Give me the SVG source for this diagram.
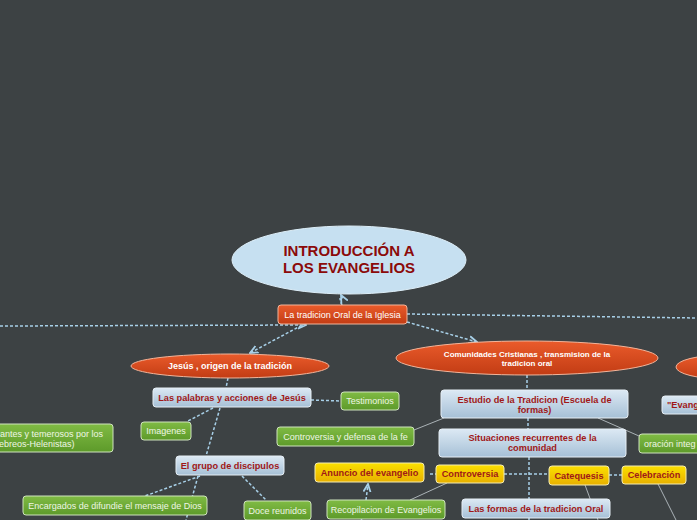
<svg xmlns="http://www.w3.org/2000/svg" width="697" height="520" viewBox="0 0 697 520">
<defs>
<linearGradient id="gOr" x1="0" y1="0" x2="0" y2="1"><stop offset="0" stop-color="#ea5b2b"/><stop offset="1" stop-color="#c23c14"/></linearGradient>
<linearGradient id="gBl" x1="0" y1="0" x2="0" y2="1"><stop offset="0" stop-color="#dce9f4"/><stop offset="1" stop-color="#a6c0d6"/></linearGradient>
<linearGradient id="gGr" x1="0" y1="0" x2="0" y2="1"><stop offset="0" stop-color="#80bb44"/><stop offset="1" stop-color="#5d9a2a"/></linearGradient>
<linearGradient id="gYe" x1="0" y1="0" x2="0" y2="1"><stop offset="0" stop-color="#fbe000"/><stop offset="1" stop-color="#e8b000"/></linearGradient>
<marker id="arr" viewBox="0 0 10 10" refX="9" refY="5" markerWidth="6" markerHeight="6" orient="auto-start-reverse"><path d="M0,1 L9,5 L0,9" fill="none" stroke="#a8d0e8" stroke-width="2"/></marker>
</defs>
<style>
.dash{fill:none;stroke:#a8d0e8;stroke-width:1.5;stroke-dasharray:3 2}
.sol{fill:none;stroke:#aab2b6;stroke-width:1}
.or{fill:url(#gOr);stroke:#f2b49a;stroke-width:1}
.bl{fill:url(#gBl);stroke:#e6eef5;stroke-width:1}
.gr{fill:url(#gGr);stroke:#cfe3bd;stroke-width:1}
.ye{fill:url(#gYe);stroke:#f5ecb0;stroke-width:1}
text{font-family:"Liberation Sans",Arial,sans-serif;text-anchor:middle}
.wt{fill:#ffffff;font-size:9px}
.wb{fill:#ffffff;font-size:9px;font-weight:bold}
.rb{fill:#a01818;font-size:9.2px;font-weight:bold}
.gt{fill:#eef6e4;font-size:9px}
.title{fill:#8b0a0a;font-size:15px;font-weight:bold}
</style>
<rect width="697" height="520" fill="#3d4244"/>
<g id="connectors">
<path class="dash" d="M342,305 L340,299 L343,299 L341,295" marker-end="url(#arr)"/>
<path class="dash" d="M0,326 L306,325" marker-end="url(#arr)"/>
<path class="dash" d="M407,314 L697,318"/>
<path class="dash" d="M407,322 L477,342" marker-end="url(#arr)"/>
<path class="dash" d="M306,323 L250,353" marker-end="url(#arr)"/>
<path class="dash" d="M228,378 L226,388"/>
<path class="dash" d="M311,400 L341,401"/>
<path class="dash" d="M213,408 L188,421"/>
<path class="dash" d="M220,408 L206,456"/>
<path class="dash" d="M200,476 L145,496"/>
<path class="dash" d="M198,476 L186,520"/>
<path class="dash" d="M242,476 L266,500"/>
<path class="dash" d="M527,375 L527,390"/>
<path class="dash" d="M528,418 L528,429"/>
<path class="dash" d="M529,457 L529,520"/>
<path class="dash" d="M430,474 L436,474"/>
<path class="dash" d="M504,474 L549,474"/>
<path class="dash" d="M609,475 L622,475"/>
<path class="dash" d="M366,500 L368,484" marker-end="url(#arr)"/>
<path class="dash" d="M362,519 L361,520"/>
<path class="sol" d="M414,430 L444,418"/>
<path class="sol" d="M598,418 L639,436"/>
<path class="sol" d="M447,483 L410,500"/>
<path class="sol" d="M585,485 L598,520"/>
<path class="sol" d="M658,484 L676,520"/>
</g>
<g id="n-main"><ellipse cx="349" cy="260" rx="117" ry="34" fill="#c6e0f1" stroke="#ddeef8"/><text class="title" x="349" y="256">INTRODUCCIÓN A</text><text class="title" x="349" y="273">LOS EVANGELIOS</text></g>
<g id="n-oral"><rect class="or" x="278" y="305" width="129" height="19" rx="3"/><text class="wt" x="342.5" y="318">La tradicion Oral de la Iglesia</text></g>
<g id="n-jesus"><ellipse class="or" cx="230" cy="366" rx="99" ry="12"/><text class="wb" x="230" y="369">Jesús , origen de la tradición</text></g>
<g id="n-comunidades"><ellipse class="or" cx="527" cy="358" rx="131" ry="17"/><text class="wb" x="527" y="357" style="font-size:8px">Comunidades Cristianas , transmision de la</text><text class="wb" x="527" y="366" style="font-size:8px">tradicion oral</text></g>
<g id="n-right"><ellipse class="or" cx="724" cy="367" rx="48" ry="12"/></g>
<g id="n-palabras"><rect class="bl" x="153" y="388" width="158" height="19" rx="3"/><text class="rb" x="232" y="401">Las palabras y acciones de Jesús</text></g>
<g id="n-testimonios"><rect class="gr" x="341" y="392" width="58" height="18" rx="3"/><text class="gt" x="370" y="404">Testimonios</text></g>
<g id="n-imagenes"><rect class="gr" x="141" y="422" width="50" height="18" rx="3"/><text class="gt" x="166" y="434">Imagenes</text></g>
<g id="n-left"><rect class="gr" x="-20" y="424" width="133" height="28" rx="3"/><text class="gt" x="0" y="437" style="text-anchor:start">antes y temerosos por los</text><text class="gt" x="-1" y="447" style="text-anchor:start">ebreos-Helenistas)</text></g>
<g id="n-grupo"><rect class="bl" x="176" y="456" width="108" height="19" rx="3"/><text class="rb" x="230" y="469">El grupo de discipulos</text></g>
<g id="n-encargados"><rect class="gr" x="23" y="496" width="184" height="19" rx="3"/><text class="gt" x="115" y="509">Encargados de difundie el mensaje de Dios</text></g>
<g id="n-doce"><rect class="gr" x="244" y="501" width="67" height="19" rx="3"/><text class="gt" x="277.5" y="514">Doce reunidos</text></g>
<g id="n-controv-fe"><rect class="gr" x="277" y="427" width="137" height="19" rx="3"/><text class="gt" x="345.5" y="440">Controversia y defensa de la fe</text></g>
<g id="n-estudio"><rect class="bl" x="441" y="390" width="187" height="28" rx="3"/><text class="rb" x="534.5" y="403">Estudio de la Tradicion (Escuela de</text><text class="rb" x="534.5" y="413">formas)</text></g>
<g id="n-situaciones"><rect class="bl" x="439" y="429" width="187" height="28" rx="3"/><text class="rb" x="532.5" y="441">Situaciones recurrentes de la</text><text class="rb" x="532.5" y="451">comunidad</text></g>
<g id="n-oracion"><rect class="gr" x="639" y="434" width="70" height="19" rx="3"/><text class="gt" x="644" y="447" style="text-anchor:start">oración integ</text></g>
<g id="n-evang"><rect class="bl" x="662" y="396" width="50" height="18" rx="3"/><text class="rb" x="667" y="408" style="text-anchor:start">"Evang</text></g>
<g id="n-anuncio"><rect class="ye" x="315" y="463" width="109" height="19" rx="3"/><text class="rb" x="369.5" y="476">Anuncio del evangelio</text></g>
<g id="n-controversia"><rect class="ye" x="436" y="465" width="68" height="18" rx="3"/><text class="rb" x="470" y="477">Controversia</text></g>
<g id="n-catequesis"><rect class="ye" x="549" y="466" width="60" height="19" rx="3"/><text class="rb" x="579" y="479">Catequesis</text></g>
<g id="n-celebracion"><rect class="ye" x="622" y="466" width="64" height="18" rx="3"/><text class="rb" x="654" y="478">Celebración</text></g>
<g id="n-recopilacion"><rect class="gr" x="327" y="500" width="118" height="19" rx="3"/><text class="gt" x="386" y="513">Recopilacion de Evangelios</text></g>
<g id="n-formas"><rect class="bl" x="462" y="499" width="148" height="19" rx="3"/><text class="rb" x="536" y="512">Las formas de la tradicion Oral</text></g>
</svg>
